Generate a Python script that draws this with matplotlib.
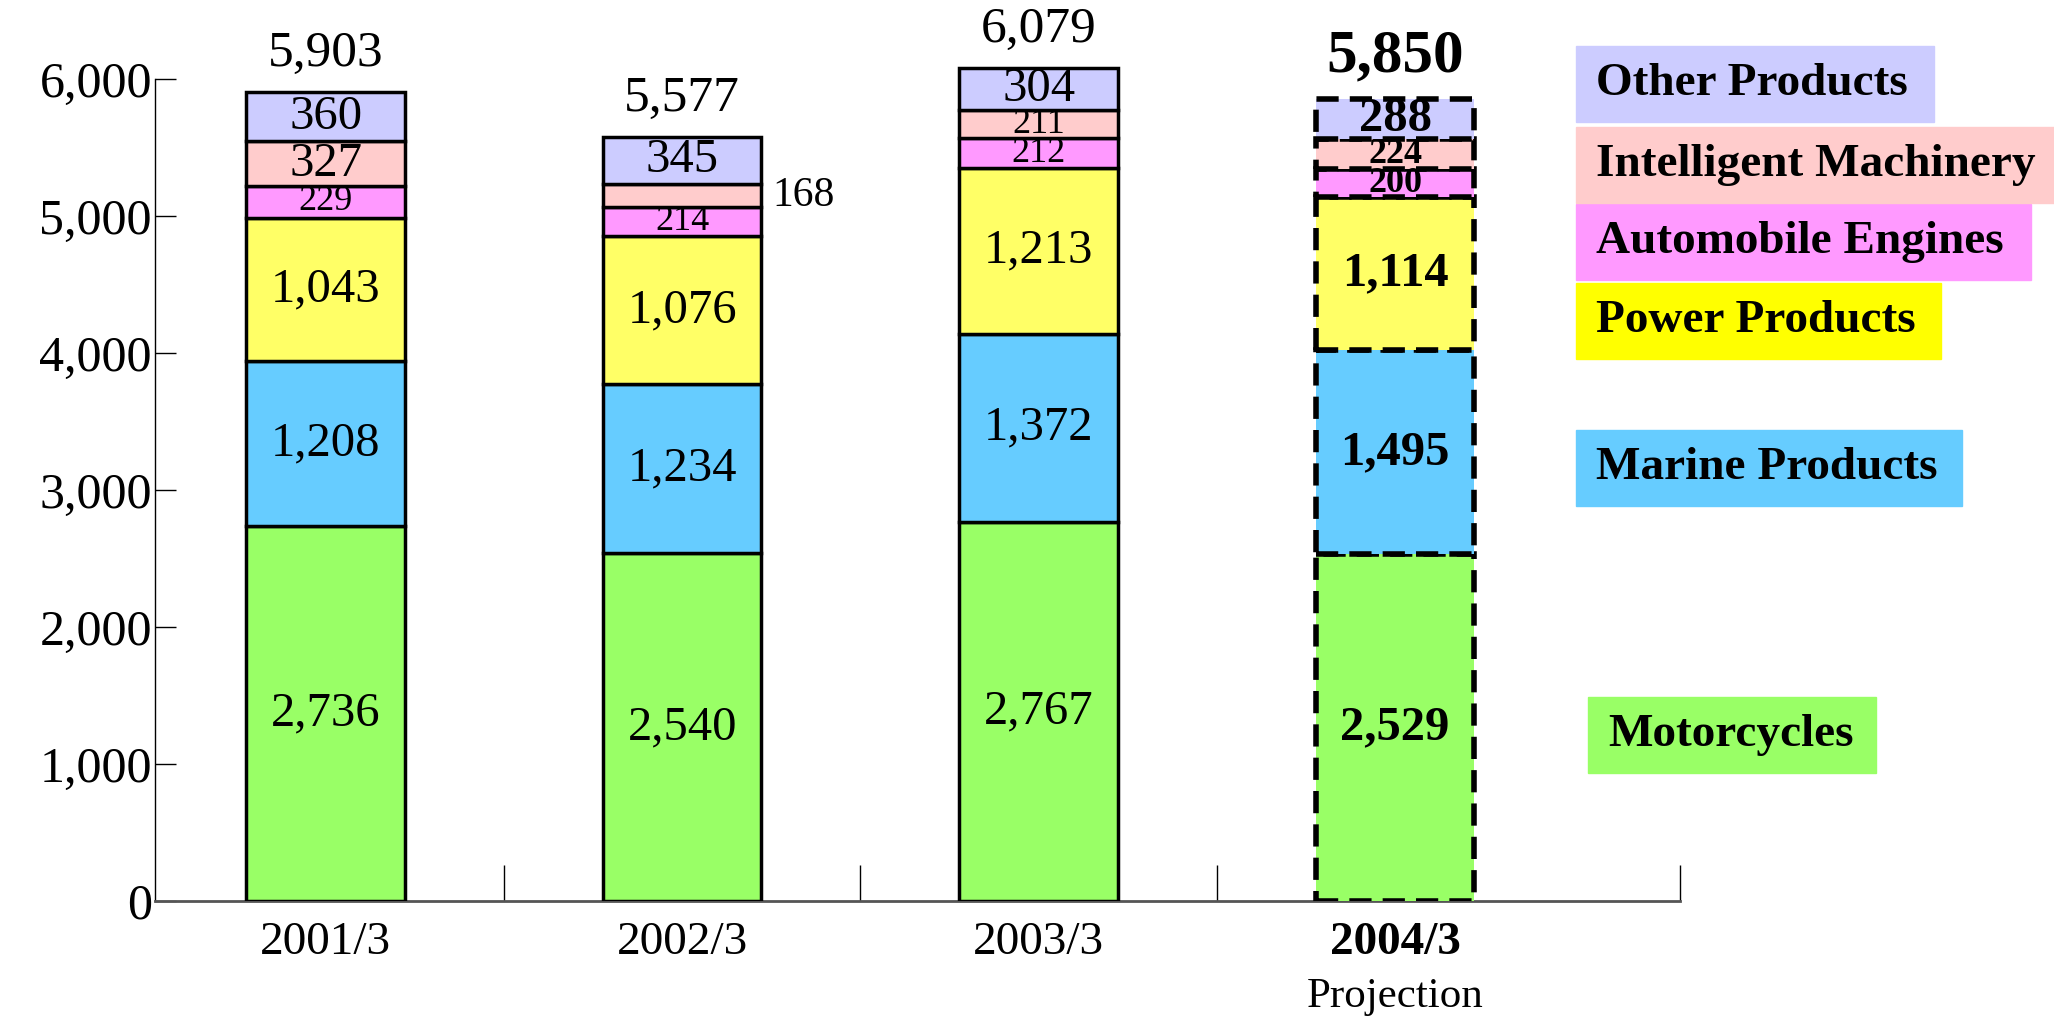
import matplotlib
matplotlib.use('Agg')
import matplotlib.pyplot as plt
from matplotlib.patches import Rectangle
import numpy as np

plt.rcParams['font.family'] = ['Liberation Serif', 'DejaVu Serif']

# data (bottom to top)
years = ['2001/3', '2002/3', '2003/3', '2004/3']
segments = ['Motorcycles', 'Marine Products', 'Power Products',
            'Automobile Engines', 'Intelligent Machinery', 'Other Products']
motorcycles = [2736, 2540, 2767, 2529]
marine = [1208, 1234, 1372, 1495]
power = [1043, 1076, 1213, 1114]
auto_engines = [229, 214, 212, 200]
intelligent = [327, 168, 211, 224]
other = [360, 345, 304, 288]
totals = [5903, 5577, 6079, 5850]

series = [motorcycles, marine, power, auto_engines, intelligent, other]
bar_colors = ['#99FF66', '#66CCFF', '#FFFF66', '#FF99FF', '#FFCCCC', '#CCCCFF']
legend_colors = ['#99FF66', '#66CCFF', '#FFFF00', '#FF99FF', '#FFCCCC', '#CCCCFF']

fig = plt.figure(figsize=(20.54, 10.17), dpi=100)
ax = fig.add_axes([0.0753, 0.114, 0.818 - 0.0753, 0.963 - 0.114])

x = np.arange(len(years))
width = 0.445
bottom = np.zeros(len(years))
for vals, col in zip(series, bar_colors):
    vals = np.array(vals)
    for i in range(len(years)):
        proj = (i == 3)
        ax.bar(x[i], vals[i], width, bottom=bottom[i], color=col,
               edgecolor='black',
               linewidth=4 if proj else 2.5,
               linestyle=(0, (4, 2)) if proj else '-', zorder=3)
        yc = bottom[i] + vals[i] / 2
        small = vals[i] < 240
        if i == 1 and vals[i] == 168:
            ax.text(x[i] + width / 2 + 0.03, yc, '{:,}'.format(vals[i]),
                    ha='left', va='center', fontsize=30, zorder=5)
        else:
            ax.text(x[i], yc, '{:,}'.format(vals[i]), ha='center', va='center',
                    fontsize=26 if small else 35,
                    fontweight='bold' if proj else 'normal', zorder=5)
    bottom += vals

for i, t in enumerate(totals):
    proj = (i == 3)
    ax.text(x[i], bottom[i] + 110, '{:,}'.format(t), ha='center', va='bottom',
            fontsize=44 if proj else 37,
            fontweight='bold' if proj else 'normal')

ax.set_xlim(-0.48, 3.8)
ax.set_ylim(0, 6300)
ax.set_yticks(range(0, 6001, 1000))
ax.set_yticklabels(['{:,}'.format(v) for v in range(0, 6001, 1000)], fontsize=36)
ax.tick_params(axis='y', direction='in', length=15, width=1, pad=2)
ax.spines['left'].set_bounds(0, 6000)
ax.spines['left'].set_linewidth(1)
ax.spines['top'].set_visible(False)
ax.spines['right'].set_visible(False)
ax.spines['bottom'].set_color('#555555')
ax.spines['bottom'].set_linewidth(2)

ax.set_xticks([0.5, 1.5, 2.5, 3.8])
ax.set_xticklabels([])
ax.tick_params(axis='x', direction='in', length=26, width=1)
for i, yr in enumerate(years):
    ax.text(x[i], -150, yr, ha='center', va='top', fontsize=34,
            fontweight='bold' if i == 3 else 'normal')
ax.text(x[3], -560, 'Projection', ha='center', va='top', fontsize=31)

# legend boxes at the right, in figure pixels
W, H = 2054.0, 1017.0
legend_boxes = [
    (1588, 1876, 735),
    (1576, 1962, 468),
    (1576, 1941, 321),
    (1576, 2031, 242),
    (1576, 2080, 165),
    (1576, 1934, 84),
]
for name, col, (x0, x1, yc) in zip(segments, legend_colors, legend_boxes):
    fig.patches.append(Rectangle((x0 / W, 1 - (yc + 38) / H), (x1 - x0) / W, 76 / H,
                                 transform=fig.transFigure, color=col, zorder=1))
    fig.text((x0 + 20) / W, 1 - yc / H, name, ha='left', va='center',
             fontsize=34, fontweight='bold', zorder=2)

fig.savefig('out.png', dpi=100)
